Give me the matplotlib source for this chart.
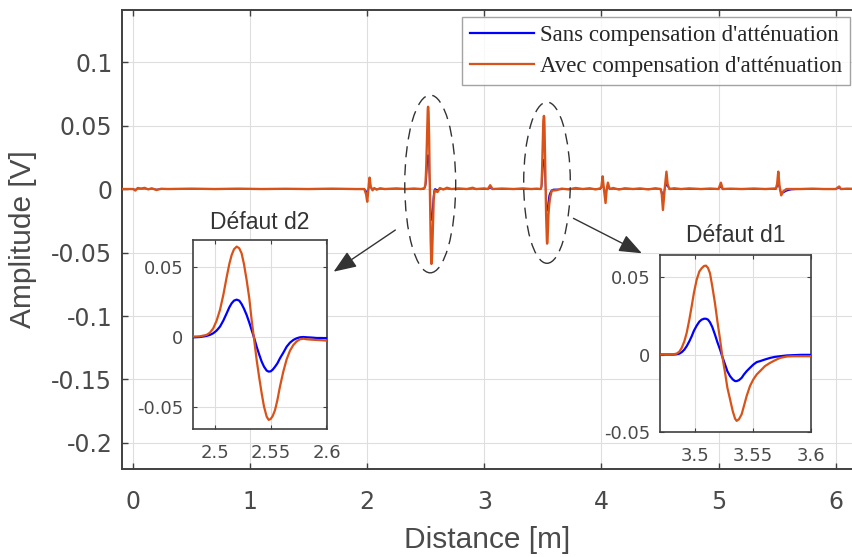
import numpy as np
import matplotlib
matplotlib.use("Agg")
import matplotlib.pyplot as plt
from matplotlib.patches import Ellipse
from matplotlib.patches import ArrowStyle

plt.rcParams['font.family'] = ['Liberation Sans', 'DejaVu Sans']

# ---------------- data ----------------
legend_labels = ["Sans compensation d'atténuation", "Avec compensation d'atténuation"]
inset_titles = ["Défaut d2", "Défaut d1"]
xlabel_text = "Distance [m]"
ylabel_text = "Amplitude [V]"

# baseline part of the trace (outside the two zoomed defects)
base_x = [-0.10, 0.00, 0.02, 0.04, 0.07, 0.10, 0.13, 0.16, 0.20, 0.24, 0.30, 0.50, 0.70, 0.90,
          1.10, 1.30, 1.50, 1.70, 1.90, 1.975, 1.99, 2.00, 2.01, 2.02, 2.03, 2.045, 2.06, 2.08,
          2.11, 2.15, 2.25, 2.33, 2.40, 2.46,
          2.62, 2.65, 2.68, 2.72, 2.78, 2.85, 2.90, 2.93, 3.00, 3.03, 3.05, 3.07, 3.15, 3.25,
          3.33, 3.40, 3.45,
          3.62, 3.66, 3.72, 3.78, 3.84, 3.90, 3.95, 3.99, 4.00, 4.01, 4.02, 4.035, 4.045, 4.055,
          4.07, 4.10, 4.15, 4.20, 4.27, 4.33, 4.40, 4.46, 4.505, 4.515, 4.525, 4.54, 4.555,
          4.565, 4.58, 4.62, 4.68, 4.75, 4.85, 4.93, 5.00, 5.02, 5.035, 5.10, 5.20, 5.30, 5.40,
          5.49, 5.50, 5.51, 5.52, 5.535, 5.55, 5.58, 5.62, 5.70, 5.80, 5.90, 6.00, 6.03, 6.045,
          6.10, 6.20]
base_orange = [0.0, 0.0, -0.0012, 0.0008, 0.0004, 0.0009, -0.0003, 0.0006, -0.0008, 0.0002, 0.0,
               0.0003, 0.0, 0.0003, 0.0, 0.0002, 0.0, 0.0003, 0.0, 0.0, -0.004, -0.010, 0.0,
               0.009, 0.002, -0.001, 0.0008, -0.0005, 0.0006, 0.0, 0.0005, 0.0, 0.0004, 0.0,
               0.0008, -0.0004, 0.001, 0.0, 0.0005, 0.0, 0.001, 0.0, 0.0005, 0.0, 0.003, 0.0,
               0.0004, 0.0, 0.0005, 0.0, 0.0003,
               -0.0008, 0.0003, -0.0003, 0.0008, 0.0, 0.0006, -0.0003, 0.0005, 0.002, 0.010,
               0.001, -0.011, 0.0, 0.005, 0.0, 0.0008, -0.0004, 0.0006, 0.0, 0.0005, -0.0003,
               0.0006, 0.0, -0.004, -0.0165, 0.0, 0.0137, 0.004, 0.0, 0.0006, 0.0, 0.0005, 0.0,
               0.0004, 0.0, 0.005, 0.0, 0.0003, 0.0, 0.0004, 0.0, 0.0005, 0.004, 0.0137, 0.003,
               -0.005, -0.002, 0.0, 0.0, 0.0, 0.0003, 0.0, 0.0, 0.002, 0.0, 0.0003, 0.0]
base_blue = [0.0, 0.0, -0.0004, 0.0003, 0.0002, 0.0003, 0.0, 0.0002, -0.0003, 0.0, 0.0,
             0.0001, 0.0, 0.0001, 0.0, 0.0, 0.0, 0.0001, 0.0, 0.0, -0.0015, -0.003, 0.0,
             0.003, 0.001, 0.0, 0.0003, 0.0, 0.0002, 0.0, 0.0002, 0.0, 0.0001, 0.0,
             0.0, 0.0, 0.0003, 0.0, 0.0, 0.0, 0.0003, 0.0, 0.0, 0.0, 0.001, 0.0,
             0.0, 0.0, 0.0, 0.0, 0.0,
             -0.0002, -0.0003, 0.0, 0.0002, 0.0, 0.0002, 0.0, 0.0, 0.001, 0.004,
             0.0, -0.004, 0.0, 0.002, 0.0, 0.0002, 0.0, 0.0002, 0.0, 0.0, 0.0,
             0.0002, 0.0, -0.002, -0.007, 0.0, 0.004, 0.002, 0.0005, 0.0, 0.0, 0.0, 0.0,
             0.0, 0.0, 0.002, 0.0, 0.0, 0.0, 0.0, 0.0, 0.0, 0.002, 0.005, 0.001,
             -0.004, -0.003, -0.0015, -0.0005, 0.0, 0.0, 0.0, 0.0, 0.001, 0.0, 0.0, 0.0]

# defect d2 (zoom)
d2_x = [2.4806, 2.4865, 2.4925, 2.4955, 2.4985, 2.5015, 2.5045, 2.5075, 2.5105, 2.5129,
        2.5150, 2.5171, 2.5195, 2.5218, 2.5239, 2.5260, 2.5284, 2.5308, 2.5329, 2.5350,
        2.5374, 2.5398, 2.5419, 2.5440, 2.5464, 2.5482, 2.5500, 2.5518, 2.5539, 2.5560,
        2.5583, 2.5613, 2.5643, 2.5673, 2.5703, 2.5733, 2.5763, 2.5793, 2.5823, 2.5868,
        2.5913, 2.5958, 2.6002]
d2_orange = [0.0005, 0.0007, 0.0017, 0.0033, 0.0064, 0.0119, 0.0195, 0.0302, 0.0429, 0.0524,
             0.0588, 0.0629, 0.0648, 0.0636, 0.0600, 0.0524, 0.0410, 0.0279, 0.0124, -0.0007,
             -0.0162, -0.0293, -0.0400, -0.0495, -0.0567, -0.0590, -0.0583, -0.0562, -0.0519,
             -0.0448, -0.0352, -0.0245, -0.0157, -0.0095, -0.0055, -0.0029, -0.0014, -0.0010,
             -0.0014, -0.0017, -0.0019, -0.0021, -0.0024]
d2_blue = [0.0, 0.0002, 0.0010, 0.0017, 0.0029, 0.0048, 0.0076, 0.0119, 0.0171, 0.0214,
           0.0243, 0.0262, 0.0269, 0.0262, 0.0238, 0.0205, 0.0160, 0.0105, 0.0052, 0.0,
           -0.0067, -0.0126, -0.0174, -0.0210, -0.0238, -0.0245, -0.0243, -0.0231, -0.0210,
           -0.0186, -0.0150, -0.0110, -0.0067, -0.0038, -0.0019, -0.0007, 0.0, 0.0002,
           0.0, -0.0002, -0.0005, -0.0005, -0.0007]

# defect d1 (zoom)
d1_x = [3.4698, 3.4756, 3.4813, 3.4842, 3.4865, 3.4885, 3.4908, 3.4928, 3.4951, 3.4971,
        3.4991, 3.5014, 3.5037, 3.5057, 3.5078, 3.5095, 3.5112, 3.5129, 3.5149, 3.5172,
        3.5193, 3.5216, 3.5236, 3.5259, 3.5279, 3.5302, 3.5325, 3.5345, 3.5359, 3.5379,
        3.5402, 3.5422, 3.5445, 3.5474, 3.5503, 3.5532, 3.5560, 3.5603, 3.5647, 3.5690,
        3.5733, 3.5790, 3.5848, 3.5920, 3.6000]
d1_orange = [0.0, 0.0, 0.0002, 0.0006, 0.0019, 0.0043, 0.0086, 0.0140, 0.0226, 0.0312,
             0.0402, 0.0484, 0.0538, 0.0559, 0.0574, 0.0576, 0.0561, 0.0527, 0.0441, 0.0333,
             0.0215, 0.0097, -0.0015, -0.0118, -0.0215, -0.0290, -0.0366, -0.0415, -0.0430,
             -0.0419, -0.0387, -0.0333, -0.0269, -0.0204, -0.0161, -0.0129, -0.0108, -0.0075,
             -0.0054, -0.0037, -0.0022, -0.0013, -0.0011, -0.0011, -0.0011]
d1_blue = [0.0, 0.0, 0.0, 0.0002, 0.0006, 0.0015, 0.0032, 0.0054, 0.0086, 0.0118,
           0.0155, 0.0187, 0.0213, 0.0226, 0.0232, 0.0232, 0.0226, 0.0209, 0.0178, 0.0129,
           0.0080, 0.0032, -0.0015, -0.0065, -0.0108, -0.0140, -0.0161, -0.0172, -0.0172,
           -0.0166, -0.0151, -0.0129, -0.0108, -0.0086, -0.0065, -0.0049, -0.0043, -0.0032,
           -0.0022, -0.0015, -0.0011, -0.0006, -0.0004, -0.0002, -0.0002]

x_ticks_main = [0, 1, 2, 3, 4, 5, 6]
y_ticks_main = [-0.2, -0.15, -0.1, -0.05, 0, 0.05, 0.1]
y_ticklabels_main = ['-0.2', '-0.15', '-0.1', '-0.05', '0', '0.05', '0.1']
d2_xticks = [2.5, 2.55, 2.6]
d1_xticks = [3.5, 3.55, 3.6]
inset_yticks = [-0.05, 0, 0.05]
inset_yticklabels = ['-0.05', '0', '0.05']

# ---------------- styling ----------------
BLUE = '#0000ff'
ORANGE = '#d95319'
AXC = '#404040'
TXT = '#4a4a4a'
GRID = '#dedede'
TICKFONT = ['DejaVu Sans']

W, H = 853, 557
fig = plt.figure(figsize=(W / 100, H / 100), dpi=100)

# combined main trace
mx = np.array(base_x + d2_x + d1_x)
mo = np.array(base_orange + d2_orange + d1_orange)
mb = np.array(base_blue + d2_blue + d1_blue)
order = np.argsort(mx, kind='stable')
mx, mo, mb = mx[order], mo[order], mb[order]

ax = fig.add_axes([122 / W, (H - 469) / H, 731 / W, 459 / H])
l1, = ax.plot(mx, mb, color=BLUE, lw=1.0, zorder=3)
l2, = ax.plot(mx, mo, color=ORANGE, lw=1.7, zorder=4)
ax.set_xlim(-0.094, 6.148)
ax.set_ylim(-0.2205, 0.141)
ax.set_xticks(x_ticks_main)
ax.set_xticklabels([str(v) for v in x_ticks_main], family=TICKFONT)
ax.set_yticks(y_ticks_main)
ax.set_yticklabels(y_ticklabels_main, family=TICKFONT)
ax.grid(True, color=GRID, lw=0.8, zorder=0)
ax.set_axisbelow(True)
for s in ['left', 'bottom', 'top']:
    ax.spines[s].set_color(AXC)
    ax.spines[s].set_linewidth(1.4)
ax.spines['right'].set_visible(False)
ax.tick_params(axis='both', direction='in', length=4, width=1.0, color=AXC,
               labelcolor=TXT, labelsize=17)
ax.tick_params(axis='x', top=True, pad=15)
ax.tick_params(axis='y', pad=7)
ax.set_xlabel(xlabel_text, fontsize=21.5, color=TXT)
ax.xaxis.set_label_coords(0.5, -0.125)
ax.set_ylabel(ylabel_text, fontsize=21.5, color=TXT)
ax.yaxis.set_label_coords(-0.116, 0.5)

# dashed ellipses
for (cx, cy, ew, eh) in [(2.538, 0.004, 0.435, 0.140), (3.535, 0.005, 0.398, 0.127)]:
    ax.add_patch(Ellipse((cx, cy), ew, eh, fill=False, ec='#333333', lw=1.0,
                         ls=(0, (8, 5)), zorder=5))

# arrows
astyle = ArrowStyle('-|>', head_length=1.4, head_width=0.55)
ax.annotate('', xy=(1.713, -0.0651), xytext=(2.240, -0.0323),
            arrowprops=dict(arrowstyle=astyle, color='#333333', lw=1.0, mutation_scale=10,
                            shrinkA=0, shrinkB=0), zorder=6)
ax.annotate('', xy=(4.345, -0.0506), xytext=(3.761, -0.0231),
            arrowprops=dict(arrowstyle=astyle, color='#333333', lw=1.0, mutation_scale=10,
                            shrinkA=0, shrinkB=0), zorder=6)

# legend
leg = fig.legend([l1, l2], legend_labels, loc='upper right',
                 bbox_to_anchor=(850 / W, 1 - 16.7 / H), borderaxespad=0,
                 prop={'family': 'Liberation Serif', 'size': 16.5}, frameon=True,
                 fancybox=False, edgecolor='#8c8c8c', handlelength=2.8,
                 handletextpad=0.25, labelspacing=0.45, borderpad=0.35)
leg.get_frame().set_linewidth(1.0)
for t in leg.get_texts():
    t.set_color('#262626')
for h in leg.legend_handles:
    h.set_linewidth(1.6)


def make_inset(rect, xs, yo, yb, xlim, ylim, xticks, title, title_pad):
    a = fig.add_axes(rect)
    a.plot(xs, yb, color=BLUE, lw=1.6, zorder=3)
    a.plot(xs, yo, color=ORANGE, lw=1.6, zorder=4)
    a.set_xlim(*xlim)
    a.set_ylim(*ylim)
    a.set_xticks(xticks)
    a.set_xticklabels([f'{v:g}' for v in xticks], family=TICKFONT)
    a.set_yticks(inset_yticks)
    a.set_yticklabels(inset_yticklabels, family=TICKFONT)
    a.grid(True, color=GRID, lw=0.8, zorder=0)
    a.set_axisbelow(True)
    a.set_facecolor('white')
    for s in a.spines.values():
        s.set_color(AXC)
        s.set_linewidth(1.2)
    a.tick_params(axis='both', direction='in', length=3, width=0.8, color=AXC,
                  labelcolor=TXT, labelsize=13, top=True, right=True)
    a.tick_params(axis='x', pad=11)
    a.tick_params(axis='y', pad=7)
    a.set_title(title, fontsize=16.5, color='#333333', pad=title_pad)
    return a


make_inset([193.3 / W, (H - 429) / H, 133.4 / W, 189 / H], d2_x, d2_orange, d2_blue,
           (2.4806, 2.6002), (-0.0655, 0.0695), d2_xticks, inset_titles[0], 8)
make_inset([660 / W, (H - 431.7) / H, 151 / W, 176.7 / H], d1_x, d1_orange, d1_blue,
           (3.4698, 3.6), (-0.0495, 0.0645), d1_xticks, inset_titles[1], 9.5)

fig.savefig('out.png', dpi=100)
